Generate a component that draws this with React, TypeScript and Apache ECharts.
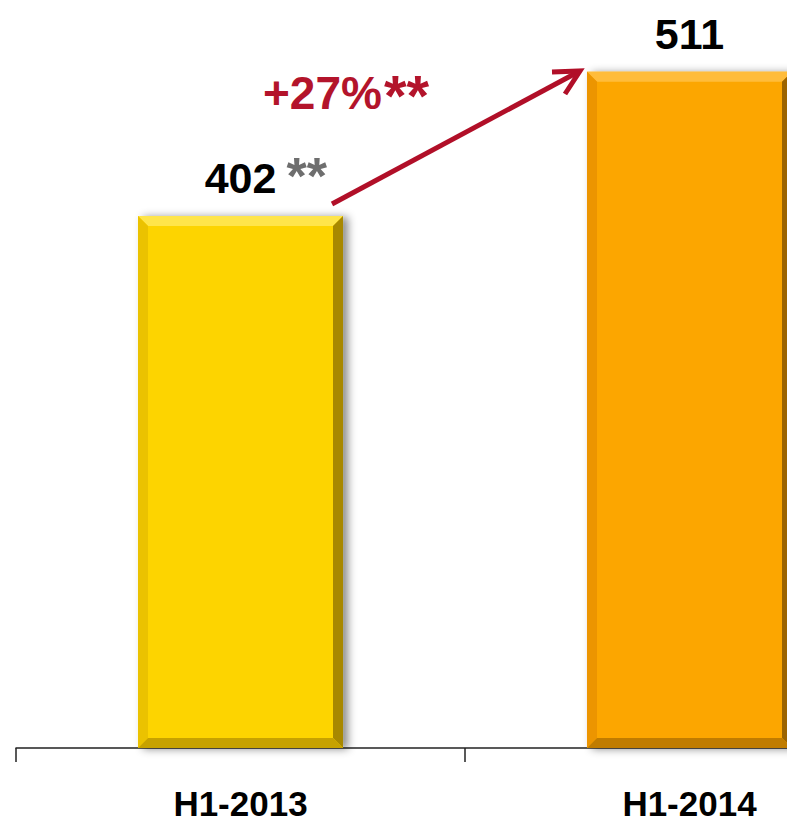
import React, { useEffect, useRef } from "react";
import * as echarts from "echarts";

const categories = ["H1-2013", "H1-2014"];
const values = [402, 511];
const valueNotes = ["**", ""];
const growthLabel = "+27%";
const growthNote = "**";
const barColors = ["#FDD402", "#FCA604"];
const bevelColors = [
  { top: "#FFE54A", left: "#EBC200", right: "#A88800", bottom: "#C7A200" },
  { top: "#FFBC3A", left: "#EC9500", right: "#9C6400", bottom: "#C07C00" },
];

export default function App() {
  const ref = useRef<HTMLDivElement>(null);
  useEffect(() => {
    document.body.style.margin = "0";
    const chart = echarts.init(ref.current!, null, { renderer: "svg" });
    const font = '"Liberation Sans", Arial, sans-serif';
    chart.setOption({
      animation: false,
      backgroundColor: "#ffffff",
      grid: { left: 16, right: 0, top: 7, bottom: 75, containLabel: false },
      xAxis: {
        type: "category",
        data: categories,
        boundaryGap: true,
        axisLine: { show: true, lineStyle: { color: "#222", width: 1.5 } },
        axisTick: { show: true, length: 14, lineStyle: { color: "#222", width: 1.5 } },
        axisLabel: {
          color: "#000",
          fontFamily: font,
          fontWeight: "bold",
          fontSize: 35,
          lineHeight: 30,
          margin: 40,
        },
      },
      yAxis: {
        type: "value",
        min: 0,
        max: 560,
        show: false,
        splitLine: { show: false },
      },
      series: [
        {
          type: "custom",
          data: values.map((v, i) => [i, v]),
          renderItem: (params: any, api: any) => {
            const idx = params.dataIndex;
            const v = api.value(1);
            const topPt = api.coord([api.value(0), v]);
            const basePt = api.coord([api.value(0), 0]);
            const bw = api.size([1, 0])[0] * 0.4566;
            const left = topPt[0] - bw / 2;
            const right = left + bw;
            const top = topPt[1];
            const bottom = basePt[1];
            const h = bottom - top;
            const b = 10;
            const bc = bevelColors[idx];
            const children: any[] = [
              {
                type: "rect",
                shape: { x: left, y: top, width: bw, height: h },
                style: {
                  fill: barColors[idx],
                  shadowBlur: 8,
                  shadowOffsetX: 5,
                  shadowOffsetY: 1,
                  shadowColor: "rgba(0,0,0,0.45)",
                },
              },
              {
                type: "polygon",
                shape: { points: [[left, top], [right, top], [right - b, top + b], [left + b, top + b]] },
                style: { fill: bc.top },
              },
              {
                type: "polygon",
                shape: { points: [[left, top], [left + b, top + b], [left + b, bottom - b], [left, bottom]] },
                style: { fill: bc.left },
              },
              {
                type: "polygon",
                shape: { points: [[right, top], [right, bottom], [right - b, bottom - b], [right - b, top + b]] },
                style: { fill: bc.right },
              },
              {
                type: "polygon",
                shape: { points: [[left, bottom], [right, bottom], [right - b, bottom - b], [left + b, bottom - b]] },
                style: { fill: bc.bottom },
              },
              {
                type: "text",
                x: topPt[0],
                y: top - 38,
                style: {
                  text: String(v),
                  font: `bold 43px ${font}`,
                  fill: "#000",
                  align: "center",
                  verticalAlign: "middle",
                },
              },
            ];
            if (valueNotes[idx]) {
              children.push({
                type: "text",
                x: topPt[0] + 46,
                y: top - 40,
                style: {
                  text: valueNotes[idx],
                  font: `bold 52px ${font}`,
                  fill: "#6E6E6E",
                  align: "left",
                  verticalAlign: "middle",
                },
              });
            }
            return { type: "group", children };
          },
        },
      ],
      graphic: [
        {
          type: "line",
          shape: { x1: 332, y1: 204, x2: 578, y2: 72 },
          style: { stroke: "#B10F28", lineWidth: 5 },
        },
        {
          type: "polyline",
          shape: { points: [[552, 72], [580, 71], [565, 94]] },
          style: { stroke: "#B10F28", lineWidth: 5, fill: null, lineJoin: "miter" },
        },
        {
          type: "text",
          x: 263,
          y: 93,
          style: {
            text: growthLabel,
            font: `bold 46px ${font}`,
            fill: "#B3142B",
            align: "left",
            verticalAlign: "middle",
          },
        },
        {
          type: "text",
          x: 384,
          y: 95,
          style: {
            text: growthNote,
            font: `bold 58px ${font}`,
            fill: "#B3142B",
            align: "left",
            verticalAlign: "middle",
          },
        },
      ],
    });
    return () => chart.dispose();
  }, []);
  return (
    <div style={{ width: 787, height: 823, overflow: "hidden", position: "relative" }}>
      <div ref={ref} style={{ width: 914, height: 823 }} />
    </div>
  );
}
